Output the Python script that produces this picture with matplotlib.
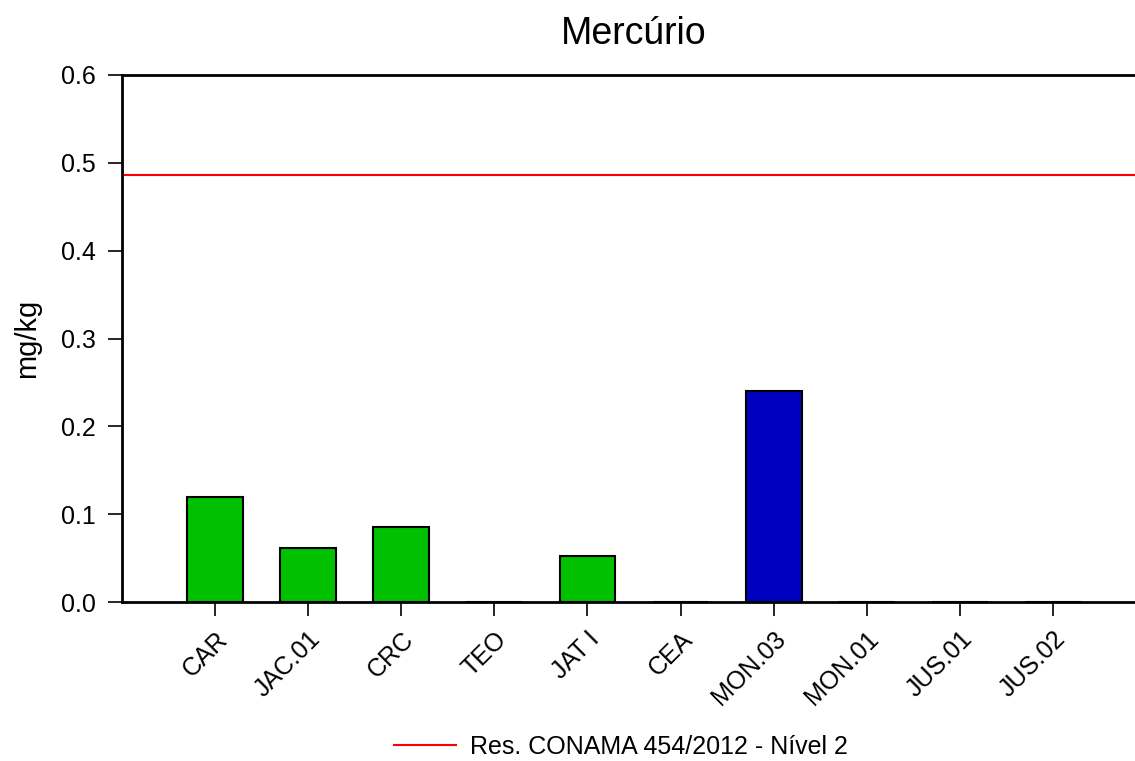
import matplotlib.pyplot as plt

plt.rcParams["font.family"] = ["Liberation Sans", "DejaVu Sans"]

estacoes = ["CAR", "JAC.01", "CRC", "TEO", "JAT I", "CEA",
            "MON.03", "MON.01", "JUS.01", "JUS.02"]
mercurio = [0.12, 0.062, 0.085, 0.0, 0.052, 0.0, 0.24, 0.0, 0.0, 0.0]
cores = ["#00C000"] * 6 + ["#0000C0"] + ["#00C000"] * 3
conama_n2 = 0.486

fig = plt.figure(figsize=(11.35, 7.61), dpi=100)
# eixo vai um pouco além da borda direita da figura
ax = fig.add_axes([122 / 1135, 1 - 602 / 761, (1146 - 122) / 1135, (602 - 75) / 761])

x = list(range(len(estacoes)))
ax.bar(x, mercurio, width=0.6, color=cores, edgecolor="black", linewidth=1.5, zorder=3)
linha = ax.axhline(conama_n2, color="red", linewidth=1.5, label="Res. CONAMA 454/2012 - Nível 2")

ax.set_xlim(-1, 10)
ax.set_ylim(0, 0.6)
ax.set_yticks([0.0, 0.1, 0.2, 0.3, 0.4, 0.5, 0.6])
ax.set_yticklabels([f"{v:.1f}" for v in ax.get_yticks()])
ax.set_xticks(x)
ax.set_xticklabels(estacoes, rotation=45, ha="right", rotation_mode="anchor")

for s in ax.spines.values():
    s.set_linewidth(2)
    s.set_zorder(4)
ax.tick_params(axis="both", direction="out", length=10, width=1.2, labelsize=18)
ax.tick_params(axis="y", pad=9)
ax.tick_params(axis="x", pad=8)

ax.set_ylabel("mg/kg", fontsize=21, labelpad=14)
ax.set_title("Mercúrio", fontsize=27, pad=22)

fig.legend(handles=[linha], loc="center", bbox_to_anchor=(621 / 1135, 1 - 747 / 761),
           frameon=False, fontsize=18, handlelength=2.5, handletextpad=0.56)

fig.savefig("out.png", dpi=100)
